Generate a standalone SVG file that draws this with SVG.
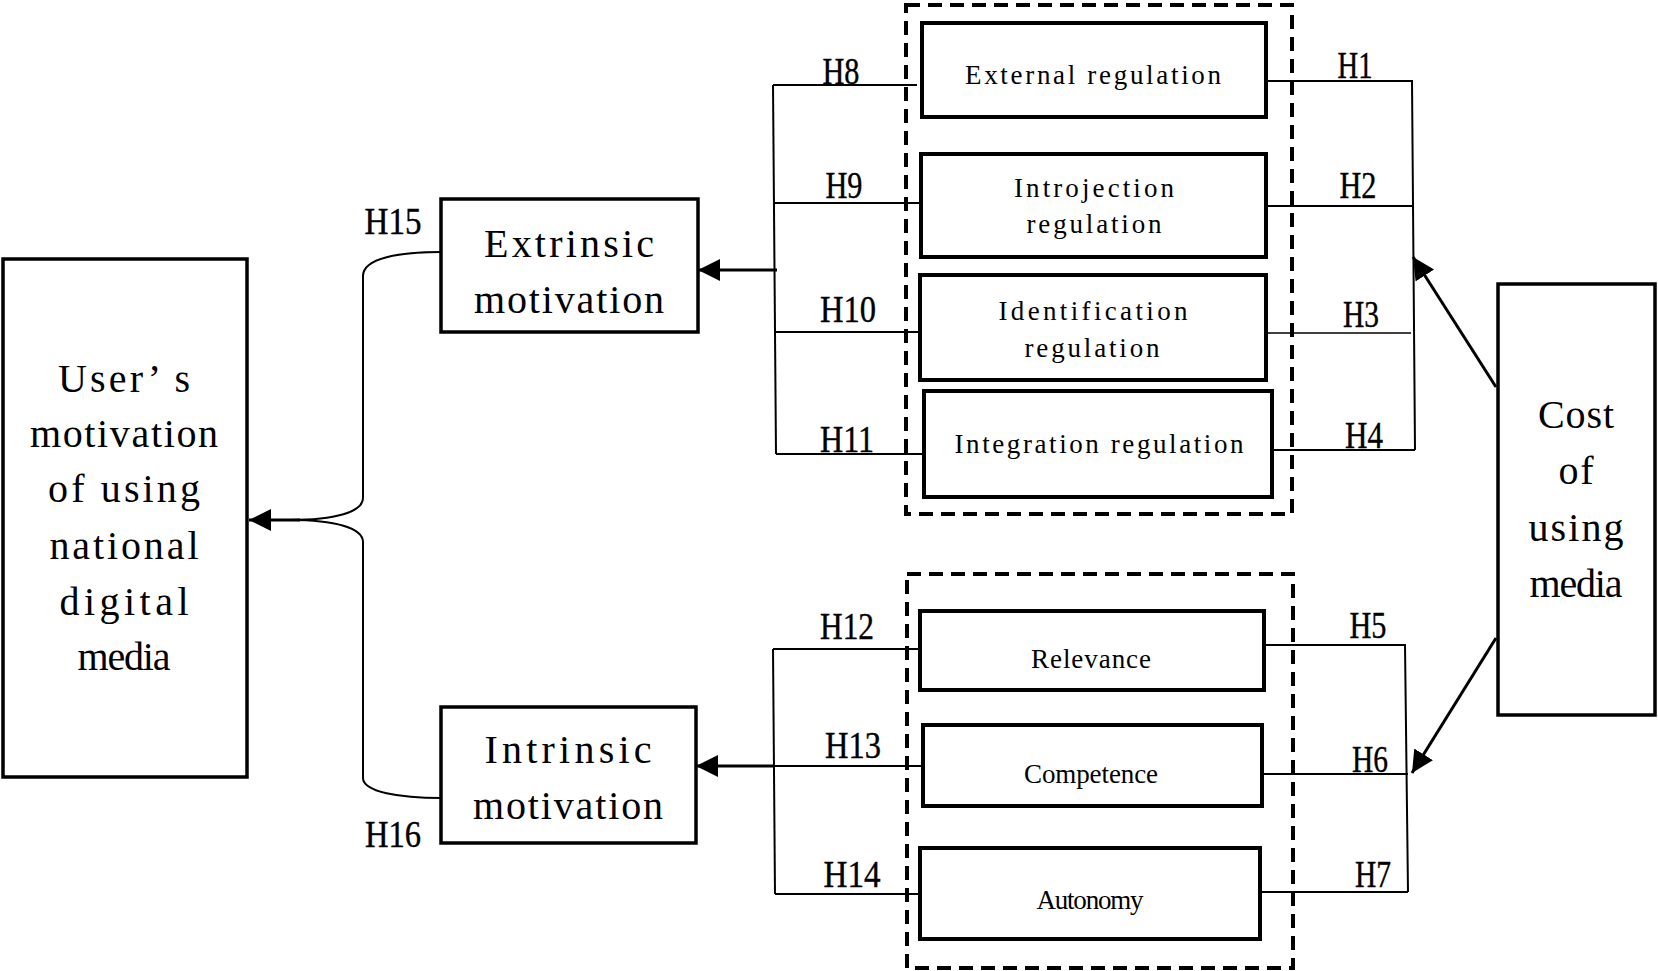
<svg xmlns="http://www.w3.org/2000/svg" width="1658" height="971" viewBox="0 0 1658 971">
<style>
.box{fill:#fff;stroke:#000;stroke-width:4}
.mbox{fill:#fff;stroke:#000;stroke-width:3.5}
.dash{fill:none;stroke:#000;stroke-width:4;stroke-dasharray:14 8}
.ln{fill:none;stroke:#000;stroke-width:2}
.thin{fill:none;stroke:#000;stroke-width:1.5}
.thk{fill:none;stroke:#000;stroke-width:3}
.big{font-family:'Liberation Serif',serif;font-size:40px;text-anchor:middle}
.mid{font-family:'Liberation Serif',serif;font-size:27px;text-anchor:middle}
.h{font-family:'Liberation Serif',serif;font-size:37px;text-anchor:middle;stroke:#000;stroke-width:0.4}
</style>
<defs>
<marker id="ah" markerUnits="userSpaceOnUse" markerWidth="24" markerHeight="24" refX="22" refY="11" orient="auto">
<path d="M0,0 L22,11 L0,22 z" fill="#000"/>
</marker>
</defs>
<rect width="1658" height="971" fill="#fff"/>

<g id="connectors">
<path class="ln" d="M441,252 C400,252 363,258 363,276 L363,498 C363,512 335,520 290,520"/>
<path class="ln" d="M290,520 C335,520 363,528 363,542 L363,778 C363,792 400,798 441,798"/>
<path class="thk" d="M300,520 L249,520" marker-end="url(#ah)"/>
<path class="thk" d="M777,270 L698,270" marker-end="url(#ah)"/>
<path class="thk" d="M773,766 L696,766" marker-end="url(#ah)"/>
<path class="ln" d="M773,85 L776,454"/>
<path class="ln" d="M773,85 L917,85"/>
<path class="ln" d="M773,203 L921,203"/>
<path class="ln" d="M774,332 L920,332"/>
<path class="ln" d="M776,454 L924,454"/>
<path class="ln" d="M773,649 L775,894"/>
<path class="ln" d="M773,649 L919,649"/>
<path class="ln" d="M773,766 L922,766"/>
<path class="ln" d="M775,894 L919,894"/>
<path class="ln" d="M1266,81 L1412,81 L1415,450"/>
<path class="ln" d="M1266,206 L1413,206"/>
<path class="thin" d="M1266,333 L1411,333"/>
<path class="ln" d="M1272,450 L1415,450"/>
<path class="ln" d="M1264,645 L1405,645 L1408,892"/>
<path class="ln" d="M1262,774 L1408,774"/>
<path class="ln" d="M1260,892 L1408,892"/>
<path class="thk" d="M1496,387 L1413,257" marker-end="url(#ah)"/>
<path class="thk" d="M1496,638 L1412,773" marker-end="url(#ah)"/>
</g>

<g id="labels">
<text class="h" x="841" y="84" textLength="37" lengthAdjust="spacingAndGlyphs">H8</text>
<text class="h" x="844" y="198" textLength="37" lengthAdjust="spacingAndGlyphs">H9</text>
<text class="h" x="848" y="322" textLength="56" lengthAdjust="spacingAndGlyphs">H10</text>
<text class="h" x="847" y="452" textLength="54" lengthAdjust="spacingAndGlyphs">H11</text>
<text class="h" x="847" y="639" textLength="54" lengthAdjust="spacingAndGlyphs">H12</text>
<text class="h" x="853" y="758" textLength="56" lengthAdjust="spacingAndGlyphs">H13</text>
<text class="h" x="852" y="887" textLength="57" lengthAdjust="spacingAndGlyphs">H14</text>
<text class="h" x="393" y="234" textLength="57" lengthAdjust="spacingAndGlyphs">H15</text>
<text class="h" x="393" y="847" textLength="56" lengthAdjust="spacingAndGlyphs">H16</text>
<text class="h" x="1355" y="78" textLength="35" lengthAdjust="spacingAndGlyphs">H1</text>
<text class="h" x="1358" y="198" textLength="37" lengthAdjust="spacingAndGlyphs">H2</text>
<text class="h" x="1361" y="327" textLength="36" lengthAdjust="spacingAndGlyphs">H3</text>
<text class="h" x="1364" y="448" textLength="38" lengthAdjust="spacingAndGlyphs">H4</text>
<text class="h" x="1368" y="638" textLength="37" lengthAdjust="spacingAndGlyphs">H5</text>
<text class="h" x="1370" y="772" textLength="36" lengthAdjust="spacingAndGlyphs">H6</text>
<text class="h" x="1373" y="887" textLength="36" lengthAdjust="spacingAndGlyphs">H7</text>
</g>

<g id="group-extrinsic-regulation">
<rect class="dash" x="906" y="5" width="386" height="509"/>
</g>
<g id="group-intrinsic-needs">
<rect class="dash" x="907" y="574" width="386" height="394"/>
</g>

<g id="node-user">
<rect class="mbox" x="3" y="259" width="244" height="518"/>
<text class="big" x="124" y="392" textLength="132">User’ s</text>
<text class="big" x="124" y="447" textLength="188">motivation</text>
<text class="big" x="124" y="502" textLength="152">of using</text>
<text class="big" x="124" y="559" textLength="149">national</text>
<text class="big" x="124" y="615" textLength="129">digital</text>
<text class="big" x="124" y="670" textLength="93">media</text>
</g>

<g id="node-extrinsic">
<rect class="mbox" x="441" y="199" width="257" height="133"/>
<text class="big" x="569" y="257" textLength="170">Extrinsic</text>
<text class="big" x="569" y="313" textLength="190">motivation</text>
</g>

<g id="node-intrinsic">
<rect class="mbox" x="441" y="707" width="255" height="136"/>
<text class="big" x="568" y="763" textLength="167">Intrinsic</text>
<text class="big" x="568" y="819" textLength="190">motivation</text>
</g>

<g id="node-cost">
<rect class="mbox" x="1498" y="284" width="157" height="431"/>
<text class="big" x="1576" y="428" textLength="76">Cost</text>
<text class="big" x="1576" y="484" textLength="35">of</text>
<text class="big" x="1576" y="541" textLength="95">using</text>
<text class="big" x="1576" y="597" textLength="93">media</text>
</g>

<g id="node-external">
<rect class="box" x="922" y="23" width="344" height="94"/>
<text class="mid" x="1093" y="84" textLength="256">External regulation</text>
</g>
<g id="node-introjection">
<rect class="box" x="921" y="154" width="345" height="103"/>
<text class="mid" x="1094" y="197" textLength="160">Introjection</text>
<text class="mid" x="1094" y="233" textLength="135">regulation</text>
</g>
<g id="node-identification">
<rect class="box" x="920" y="275" width="346" height="105"/>
<text class="mid" x="1093" y="320" textLength="189">Identification</text>
<text class="mid" x="1092" y="357" textLength="135">regulation</text>
</g>
<g id="node-integration">
<rect class="box" x="924" y="391" width="348" height="106"/>
<text class="mid" x="1099" y="453" textLength="289">Integration regulation</text>
</g>
<g id="node-relevance">
<rect class="box" x="920" y="611" width="344" height="79"/>
<text class="mid" x="1091" y="668" textLength="120">Relevance</text>
</g>
<g id="node-competence">
<rect class="box" x="923" y="725" width="339" height="81"/>
<text class="mid" x="1091" y="783" textLength="134">Competence</text>
</g>
<g id="node-autonomy">
<rect class="box" x="920" y="848" width="340" height="91"/>
<text class="mid" x="1090" y="909" textLength="107">Autonomy</text>
</g>
</svg>
